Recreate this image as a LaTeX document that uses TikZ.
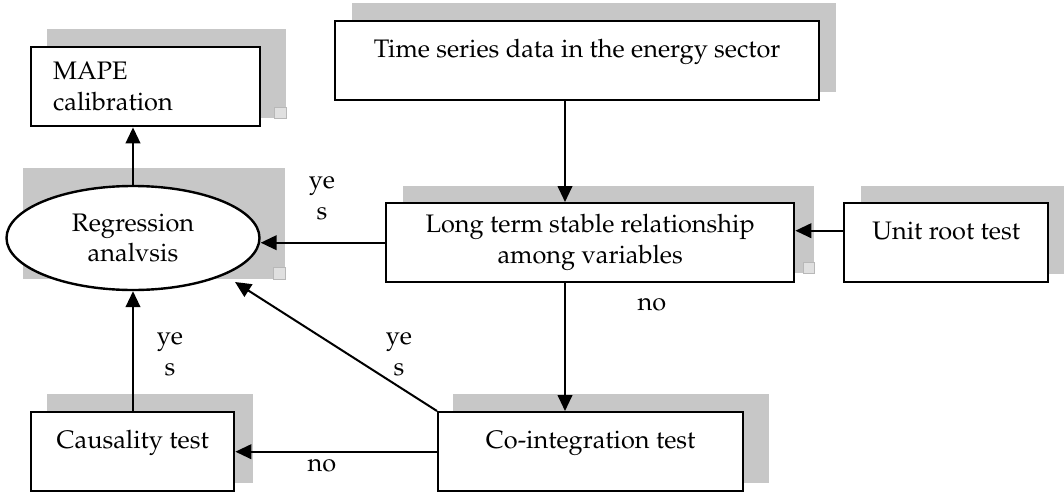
\documentclass[tikz,border=0pt]{standalone}
\usepackage[T1]{fontenc}
\usepackage{mathpazo}
\usepackage{tikz}
\usetikzlibrary{shapes.geometric,arrows.meta}

\begin{document}
\begin{tikzpicture}[x=0.75pt, y=-0.75pt,
    font=\fontsize{19}{23}\selectfont,
    block/.style={rectangle, draw, line width=1.8pt, fill=white, anchor=north west, inner sep=0pt, minimum height=59.25pt},
    topblock/.style={block, text height=27pt, text depth=31.5pt},
    oval/.style={ellipse, draw, line width=1.8pt, fill=white, inner sep=0pt, align=center, minimum width=189.75pt, minimum height=78pt},
    shade/.style={fill=black!22},
    nick/.style={fill=black!12, draw=black!28, line width=0.4pt},
    line/.style={draw, line width=1.5pt, -{Triangle[length=12pt, width=11pt]}},
    tag/.style={align=center}]
    \useasboundingbox (0,0) rectangle (1064,493);

    % shadows behind the boxes
    \fill [shade] (47,29) rectangle (286,118);
    \fill [shade] (352,3) rectangle (836,92);
    \fill [shade] (23,168) rectangle (285,279);
    \fill [shade] (403,186) rectangle (814,273);
    \fill [shade] (861,186) rectangle (1064,274);
    \fill [shade] (47,394) rectangle (253,483);
    \fill [shade] (453,394) rectangle (769,483);
    \path [nick] (274,107) rectangle (286,118);
    \path [nick] (273,267) rectangle (285,279);
    \path [nick] (803,262) rectangle (814,273);

    \node [block, align=left, text width=138.75pt, inner xsep=16.5pt] (mape) at (30,46) {MAPE\\calibration};
    \node [topblock, minimum width=363pt] (series) at (334,20) {Time series data in the energy sector};
    \node [block, align=center, minimum width=306pt] (stable) at (385,202) {Long term stable relationship\\among variables};
    \node [topblock, minimum width=153pt] (unitroot) at (843,202) {Unit root test};
    \node [oval] (regress) at (133,238) {Regression\\analvsis};
    \node [topblock, minimum width=152.25pt] (causal) at (30,411) {Causality test};
    \node [topblock, minimum width=228.75pt] (coint) at (437,411) {Co-integration test};

    \coordinate (spine) at (565,0);

    \path [line] (series.south -| spine) -- (stable.north -| spine);
    \path [line] (stable.south -| spine) -- (coint.north -| spine);
    \path [line] ([yshift=9pt]unitroot.west) -- ([yshift=9pt]stable.east);
    \path [line] (stable.west) -- (stable.west -| regress.east);
    \path [line] (regress.north) -- (regress.north |- mape.south);
    \path [line] (causal.north -| regress.south) -- (regress.south);
    \path [line] (coint.west) -- (causal.east);
    \path [line] (coint.north west) -- ([shift={(102,44)}]regress.center);

    \node [tag] (yes1) at (322,198) {ye\\s};
    \node [tag] (yes2) at (170,354) {ye\\s};
    \node [tag] (yes3) at (399,354) {ye\\s};
    \node (no1) at (652,305) {no};
    \node (no2) at (322,466) {no};
\end{tikzpicture}
\end{document}
